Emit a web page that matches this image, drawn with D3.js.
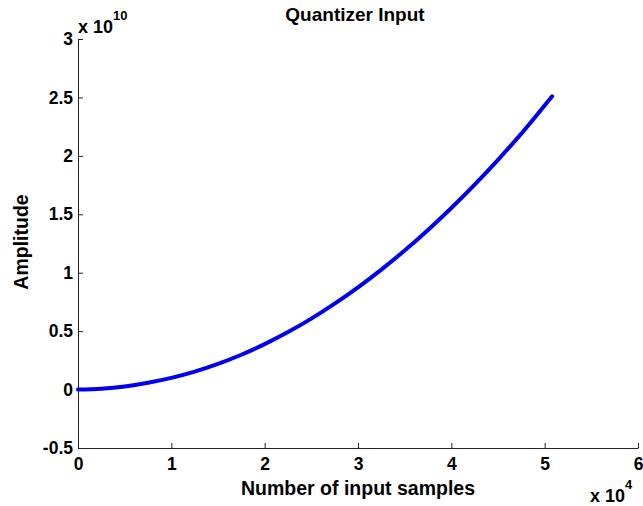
<!DOCTYPE html>
<html><head><meta charset="utf-8">
<script src="https://cdn.jsdelivr.net/npm/d3@7"></script>
<style>
html,body{margin:0;padding:0;background:#fff;}
svg{display:block;font-family:"Liberation Sans",Arial,sans-serif;font-weight:bold;}
</style></head>
<body>
<svg id="chart" width="643" height="506"></svg>
<script>
// Data (x: samples, y: amplitude)
const samples = [0, 2500, 5000, 7500, 10000, 12500, 15000, 17500, 20000, 22500, 25000, 27500, 30000, 32500, 35000, 37500, 40000, 42500, 45000, 47500, 50800];
const amplitude = [0, 0.007e10, 0.026e10, 0.058e10, 0.1e10, 0.154e10, 0.22e10, 0.298e10, 0.389e10, 0.492e10, 0.607e10, 0.735e10, 0.875e10, 1.027e10, 1.19e10, 1.366e10, 1.554e10, 1.754e10, 1.966e10, 2.19e10, 2.51e10];
const xTicks = [0, 1e4, 2e4, 3e4, 4e4, 5e4, 6e4];
const xTickLabels = ["0", "1", "2", "3", "4", "5", "6"];
const yTicks = [-0.5e10, 0, 0.5e10, 1e10, 1.5e10, 2e10, 2.5e10, 3e10];
const yTickLabels = ["-0.5", "0", "0.5", "1", "1.5", "2", "2.5", "3"];
const title = "Quantizer Input";
const xLabel = "Number of input samples";
const yLabel = "Amplitude";

(function () {
const svg = d3.select("#chart");
const mLeft = 78, mRight = 638, mTop = 39, mBottom = 448;
const x = d3.scaleLinear().domain([0, 6e4]).range([mLeft, mRight]);
const y = d3.scaleLinear().domain([-0.5e10, 3e10]).range([mBottom, mTop]);

const xAxis = d3.axisBottom(x).tickValues(xTicks).tickFormat((d, i) => xTickLabels[i]).tickSizeInner(-5).tickSizeOuter(0).tickPadding(10);
const yAxis = d3.axisLeft(y).tickValues(yTicks).tickFormat((d, i) => yTickLabels[i]).tickSizeInner(-5).tickSizeOuter(0).tickPadding(5);

const gx = svg.append("g").attr("transform", `translate(0,${mBottom})`).call(xAxis);
const gy = svg.append("g").attr("transform", `translate(${mLeft},0)`).call(yAxis);
[gx, gy].forEach(g => {
  g.select(".domain").attr("stroke", "#222").attr("stroke-width", 1);
  g.selectAll(".tick line").attr("stroke", "#222");
  g.selectAll(".tick text").attr("fill", "#000").style("font-size", "17.5px").style("font-weight", "bold").style("font-family", "Liberation Sans, Arial, sans-serif");
});
gx.selectAll(".tick text").attr("dy", "0.71em");

const line = d3.line().x((d, i) => x(samples[i])).y(d => y(d)).curve(d3.curveCatmullRom);
svg.append("path").datum(amplitude).attr("d", line)
  .attr("fill", "none").attr("stroke", "#0000ee").attr("stroke-width", 4).attr("stroke-linecap", "round");

svg.append("text").attr("x", 355).attr("y", 21).attr("text-anchor", "middle").style("font-size", "19px").text(title);
svg.append("text").attr("x", 358).attr("y", 495).attr("text-anchor", "middle").style("font-size", "19.5px").text(xLabel);
svg.append("text").attr("transform", "translate(28,242) rotate(-90)").attr("text-anchor", "middle").style("font-size", "19.5px").text(yLabel);

// exponent labels
const e10 = svg.append("text").attr("x", 78).attr("y", 33).style("font-size", "18px");
e10.append("tspan").text("x 10");
e10.append("tspan").attr("dy", -13).style("font-size", "13px").text("10");
const e4 = svg.append("text").attr("x", 590).attr("y", 502).style("font-size", "18px");
e4.append("tspan").text("x 10");
e4.append("tspan").attr("dy", -13).style("font-size", "13px").text("4");
})();
</script>
</body></html>
